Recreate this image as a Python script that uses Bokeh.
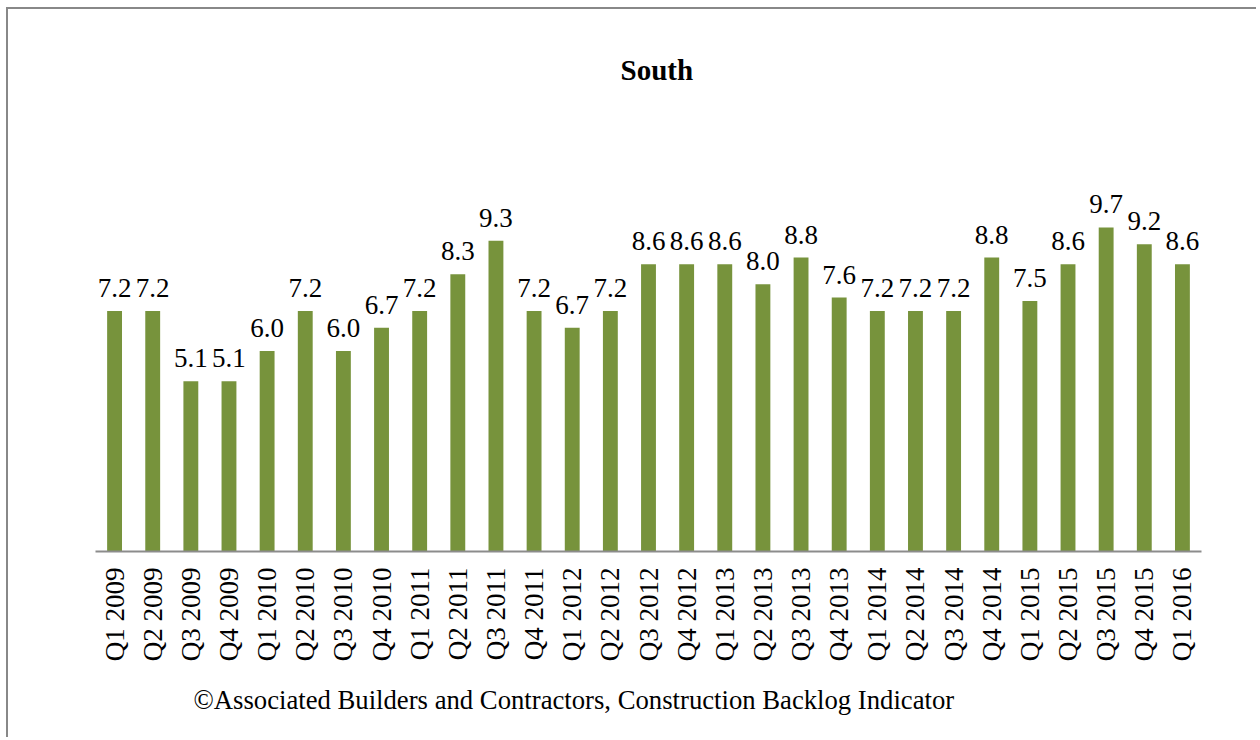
import math
from bokeh.plotting import figure
from bokeh.models import ColumnDataSource, FactorRange, Range1d, Title
from bokeh.core.properties import value
from bokeh.embed import file_html
from bokeh.resources import INLINE

quarters = [
    "Q1 2009", "Q2 2009", "Q3 2009", "Q4 2009",
    "Q1 2010", "Q2 2010", "Q3 2010", "Q4 2010",
    "Q1 2011", "Q2 2011", "Q3 2011", "Q4 2011",
    "Q1 2012", "Q2 2012", "Q3 2012", "Q4 2012",
    "Q1 2013", "Q2 2013", "Q3 2013", "Q4 2013",
    "Q1 2014", "Q2 2014", "Q3 2014", "Q4 2014",
    "Q1 2015", "Q2 2015", "Q3 2015", "Q4 2015",
    "Q1 2016",
]
backlog = [
    7.2, 7.2, 5.1, 5.1,
    6.0, 7.2, 6.0, 6.7,
    7.2, 8.3, 9.3, 7.2,
    6.7, 7.2, 8.6, 8.6,
    8.6, 8.0, 8.8, 7.6,
    7.2, 7.2, 7.2, 8.8,
    7.5, 8.6, 9.7, 9.2,
    8.6,
]
labels = [f"{v:.1f}" for v in backlog]

title_text = "South"
footer_text = "\u00a9Associated Builders and Contractors, Construction Backlog Indicator"

SERIF = "Liberation Serif"
BAR_COLOR = "#77933C"

src = ColumnDataSource(dict(q=quarters, v=backlog, lab=labels))

p = figure(
    x_range=FactorRange(*quarters, range_padding=0),
    y_range=Range1d(0, 13.65),
    width=1250, height=730,
    output_backend="svg", toolbar_location=None,
    min_border_left=87, min_border_right=57,
    min_border_top=86, min_border_bottom=188,
)
p.styles = {"margin-left": "6px", "margin-top": "7px",
            "border-left": "2px solid #888888", "border-top": "2px solid #888888"}

p.vbar(x="q", top="v", width=0.39, source=src, fill_color=BAR_COLOR, line_color=None)
p.text(x="q", y="v", text="lab", source=src,
       text_font=value(SERIF), text_font_size="27px", text_color="black",
       text_align="center", text_baseline="alphabetic", y_offset=-23)

p.yaxis.visible = False
p.grid.visible = False
p.outline_line_color = None

ax = p.xaxis[0]
ax.axis_line_color = "#8c8c8c"
ax.axis_line_width = 2
ax.major_tick_line_color = None
ax.minor_tick_line_color = None
ax.major_tick_out = 0
ax.major_tick_in = 0
ax.major_label_orientation = math.pi / 2
ax.major_label_text_font = SERIF
ax.major_label_text_font_size = "27px"
ax.major_label_text_color = "black"
ax.major_label_standoff = 16

p.title.text = title_text
p.title.text_font = SERIF
p.title.text_font_size = "29px"
p.title.text_font_style = "bold"
p.title.text_color = "black"
p.title.align = "left"
p.title.offset = 525
p.title.standoff = 19

p.add_layout(Title(text=footer_text, align="left", offset=98, standoff=37,
                   text_font=SERIF, text_font_size="26.7px",
                   text_font_style="normal", text_color="black"), "below")

open("out.html", "w").write(file_html(p, INLINE))
